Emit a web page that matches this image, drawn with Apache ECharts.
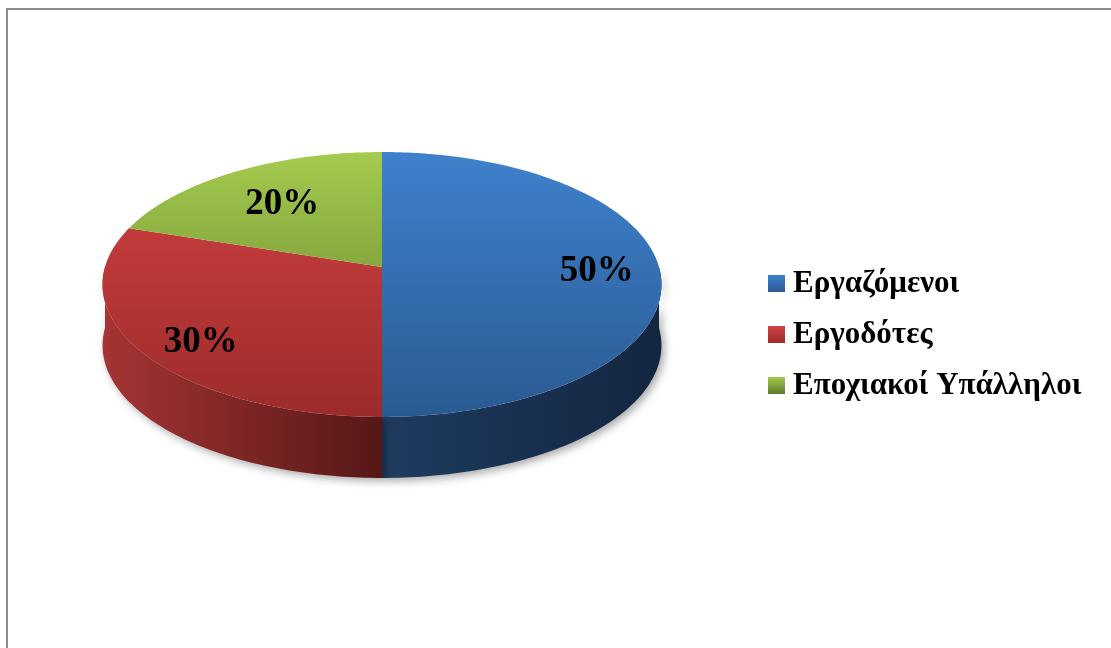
<!DOCTYPE html>
<html><head><meta charset="utf-8">
<script src="https://cdn.jsdelivr.net/npm/echarts@6/dist/echarts.min.js"></script>
<style>html,body{margin:0;padding:0;background:#fff}#c{width:1111px;height:648px}</style>
</head><body><div id="c"></div>
<script>
// ---- data ----
const categories = ['Εργαζόμενοι', 'Εργοδότες', 'Εποχιακοί Υπάλληλοι'];
const values = [50, 30, 20];

// ---- styles ----
const topColors = [['#3e81cd', '#2b5a92'], ['#d24242', '#9c2b2b'], ['#a4cb4e', '#5f7a2c']];
const wallColors = [['#1e3b61', '#13263f'], ['#a63434', '#561717'], ['#6f8c32', '#4a5f20']];
const labelRadius = [0.775, 0.80, 0.67];
const labelNudge = [[0, 1], [10, 7], [2, 0]];

const total = values.reduce((a, b) => a + b, 0);
const starts = [];
let acc = 0;
values.forEach(v => { starts.push(acc); acc += v; });

// projection of the tilted disc (perspective)
const CX = 382, RX = 277, Y0 = 267, A = 94.9, C = -0.132, DEPTH = 61;
function proj(theta, r) {
  const u = r * Math.sin(theta), v = -r * Math.cos(theta);
  const d = 1 + C * v;
  return [CX + RX * u / d, (Y0 + A * v) / d];
}

function makeSeries(i) {
  return {
    type: 'custom',
    name: categories[i],
    coordinateSystem: 'none',
    silent: true,
    animation: false,
    itemStyle: {
      color: new echarts.graphic.LinearGradient(0, 0, 0, 1, [
        { offset: 0, color: topColors[i][0] }, { offset: 1, color: topColors[i][1] }])
    },
    data: [[values[i]]],
    renderItem: function (params, api) {
      const val = api.value(0);
      const a0 = starts[i] / total * 2 * Math.PI;
      const a1 = (starts[i] + val) / total * 2 * Math.PI;
      const children = [];
      // outer wall (front half only)
      const w0 = Math.max(a0, Math.PI / 2), w1 = Math.min(a1, 3 * Math.PI / 2);
      if (w1 > w0) {
        const n = Math.max(2, Math.ceil((w1 - w0) / (Math.PI / 180)));
        const up = [], down = [];
        for (let k = 0; k <= n; k++) {
          const p = proj(w0 + (w1 - w0) * k / n, 1);
          up.push(p);
          down.push([p[0], p[1] + DEPTH]);
        }
        const pts = up.concat(down.reverse());
        const xs = pts.map(p => p[0]);
        children.push({
          type: 'polygon', z2: 1,
          shape: { points: pts },
          style: {
            fill: new echarts.graphic.LinearGradient(Math.min(...xs), 0, Math.max(...xs), 0, [
              { offset: 0, color: wallColors[i][0] }, { offset: 1, color: wallColors[i][1] }], true),
            shadowBlur: 8, shadowColor: 'rgba(0,0,0,0.35)', shadowOffsetX: 3, shadowOffsetY: 3
          }
        });
      }
      // top face
      const n2 = Math.max(2, Math.ceil((a1 - a0) / (Math.PI / 180)));
      const topPts = [proj(0, 0)];
      for (let k = 0; k <= n2; k++) topPts.push(proj(a0 + (a1 - a0) * k / n2, 1));
      children.push({
        type: 'polygon', z2: 10,
        shape: { points: topPts },
        style: {
          fill: new echarts.graphic.LinearGradient(0, 152, 0, 417, [
            { offset: 0, color: topColors[i][0] }, { offset: 1, color: topColors[i][1] }], true)
        }
      });
      // label
      const mid = (a0 + a1) / 2;
      const lp = proj(mid, labelRadius[i]);
      children.push({
        type: 'text', z2: 20,
        x: lp[0] + labelNudge[i][0], y: lp[1] + 3 + labelNudge[i][1],
        style: {
          text: Math.round(val / total * 100) + '%',
          fill: '#000',
          font: 'bold 37px "Liberation Serif", "Times New Roman", serif',
          align: 'center', verticalAlign: 'middle'
        }
      });
      return { type: 'group', children: children };
    }
  };
}

const chart = echarts.init(document.getElementById('c'), null, { renderer: 'canvas' });
chart.setOption({
  backgroundColor: '#fff',
  animation: false,
  graphic: [{
    type: 'rect', silent: true,
    shape: { x: 7, y: 9, width: 1300, height: 800 },
    style: { fill: 'none', stroke: '#8a8a8a', lineWidth: 2 }
  }],
  legend: {
    orient: 'vertical',
    left: 768, top: 268,
    padding: 0,
    itemWidth: 17, itemHeight: 17, itemGap: 20,
    icon: 'rect',
    selectedMode: false,
    data: categories,
    textStyle: { fontFamily: '"Liberation Serif", "Times New Roman", serif', fontSize: 31, fontWeight: 'bold', color: '#000', padding: [0, 0, 0, 3] }
  },
  series: values.map((v, i) => makeSeries(i))
});
</script>
</body></html>
